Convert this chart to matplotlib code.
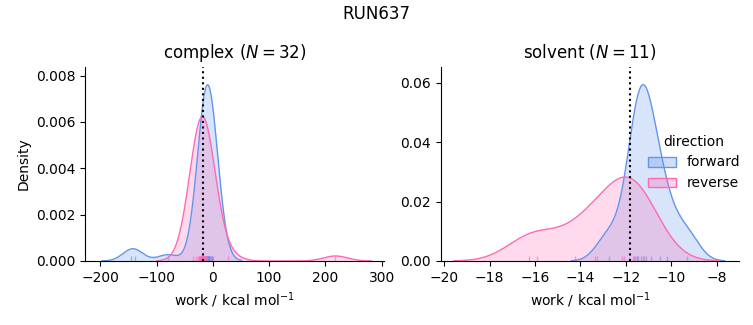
import numpy as np
import matplotlib
matplotlib.use("Agg")
import matplotlib.pyplot as plt
from matplotlib.patches import Patch

suptitle = "RUN637"
phases = ["complex", "solvent"]
directions = ["forward", "reverse"]
colors = {"forward": "#6495ED", "reverse": "#FF69B4"}

complex_forward = [-145, -139, -80, -18, -15, -14, -13, -13, -12, -12, -11, -11, -11, -10,
                   -10, -10, -10, -9, -9, -9, -9, -8, -8, -8, -7, -7, -6, -6, -5, -4, -2, -1]
complex_reverse = [-35, -30, -27, -25, -24, -23, -22, -22, -21, -21, -20, -20, -20, -19, -19,
                   -19, -18, -18, -18, -17, -17, -16, -16, -15, -14, -13, -12, -10, -5, 0, 27, 218]
solvent_forward = [-12.75, -11.6, -11.5, -11.45, -11.35, -11.25, -11.1, -10.9, -10.5, -10.2, -9.3]
solvent_reverse = [-16.27, -15.90, -14.22, -13.34, -13.27, -12.17, -12.09, -11.68, -11.63, -11.5, -11.2]
free_energy = {"complex": -17.0, "solvent": -11.8}

data = {
    "complex": {"forward": complex_forward, "reverse": complex_reverse},
    "solvent": {"forward": solvent_forward, "reverse": solvent_reverse},
}

total_n = sum(len(v) for p in data.values() for v in p.values())


def kde(samples, gridsize=200, cut=3):
    s = np.asarray(samples, float)
    n = len(s)
    bw = n ** (-1 / 5) * s.std(ddof=1)
    grid = np.linspace(s.min() - cut * bw, s.max() + cut * bw, gridsize)
    dens = np.exp(-0.5 * ((grid[:, None] - s[None, :]) / bw) ** 2).sum(1) / (n * bw * np.sqrt(2 * np.pi))
    return grid, dens * n / total_n


fig, axes = plt.subplots(1, 2, figsize=(7.53, 3.25), dpi=100)
fig.subplots_adjust(left=0.113, right=0.982, bottom=0.197, top=0.795, wspace=0.19)

for ax, phase in zip(axes, phases):
    for d in directions:
        s = data[phase][d]
        g, y = kde(s)
        ax.fill_between(g, y, color=colors[d], alpha=0.25, lw=0)
        ax.plot(g, y, color=colors[d], lw=1)
        ax.vlines(s, 0, 0.025, transform=ax.get_xaxis_transform(), color=colors[d], lw=1, alpha=0.6)
    top = ax.get_ylim()[1]
    ax.set_ylim(0, top * 1.05)
    ax.axvline(free_energy[phase], color="black", ls=":", lw=1.5)
    ax.set_title(f"{phase} ($N = {len(data[phase]['forward'])}$)", fontsize=12)
    ax.set_xlabel("work / kcal mol$^{-1}$")
    ax.spines["top"].set_visible(False)
    ax.spines["right"].set_visible(False)

axes[0].set_ylabel("Density")
axes[0].set_xlim(-227, 304)
axes[0].set_xticks([-200, -100, 0, 100, 200, 300])
axes[1].set_xlim(-20.15, -7.0)

handles = []
for d in directions:
    h = Patch(facecolor=matplotlib.colors.to_rgba(colors[d], 0.3), edgecolor=colors[d], label=d)
    handles.append(h)
fig.legend(handles=handles, title="direction", loc="center right", bbox_to_anchor=(1.0, 0.5),
           frameon=False, fontsize=10, title_fontsize=10)
fig.suptitle(suptitle, fontsize=12, y=0.985)
fig.savefig("out.png", dpi=100)
